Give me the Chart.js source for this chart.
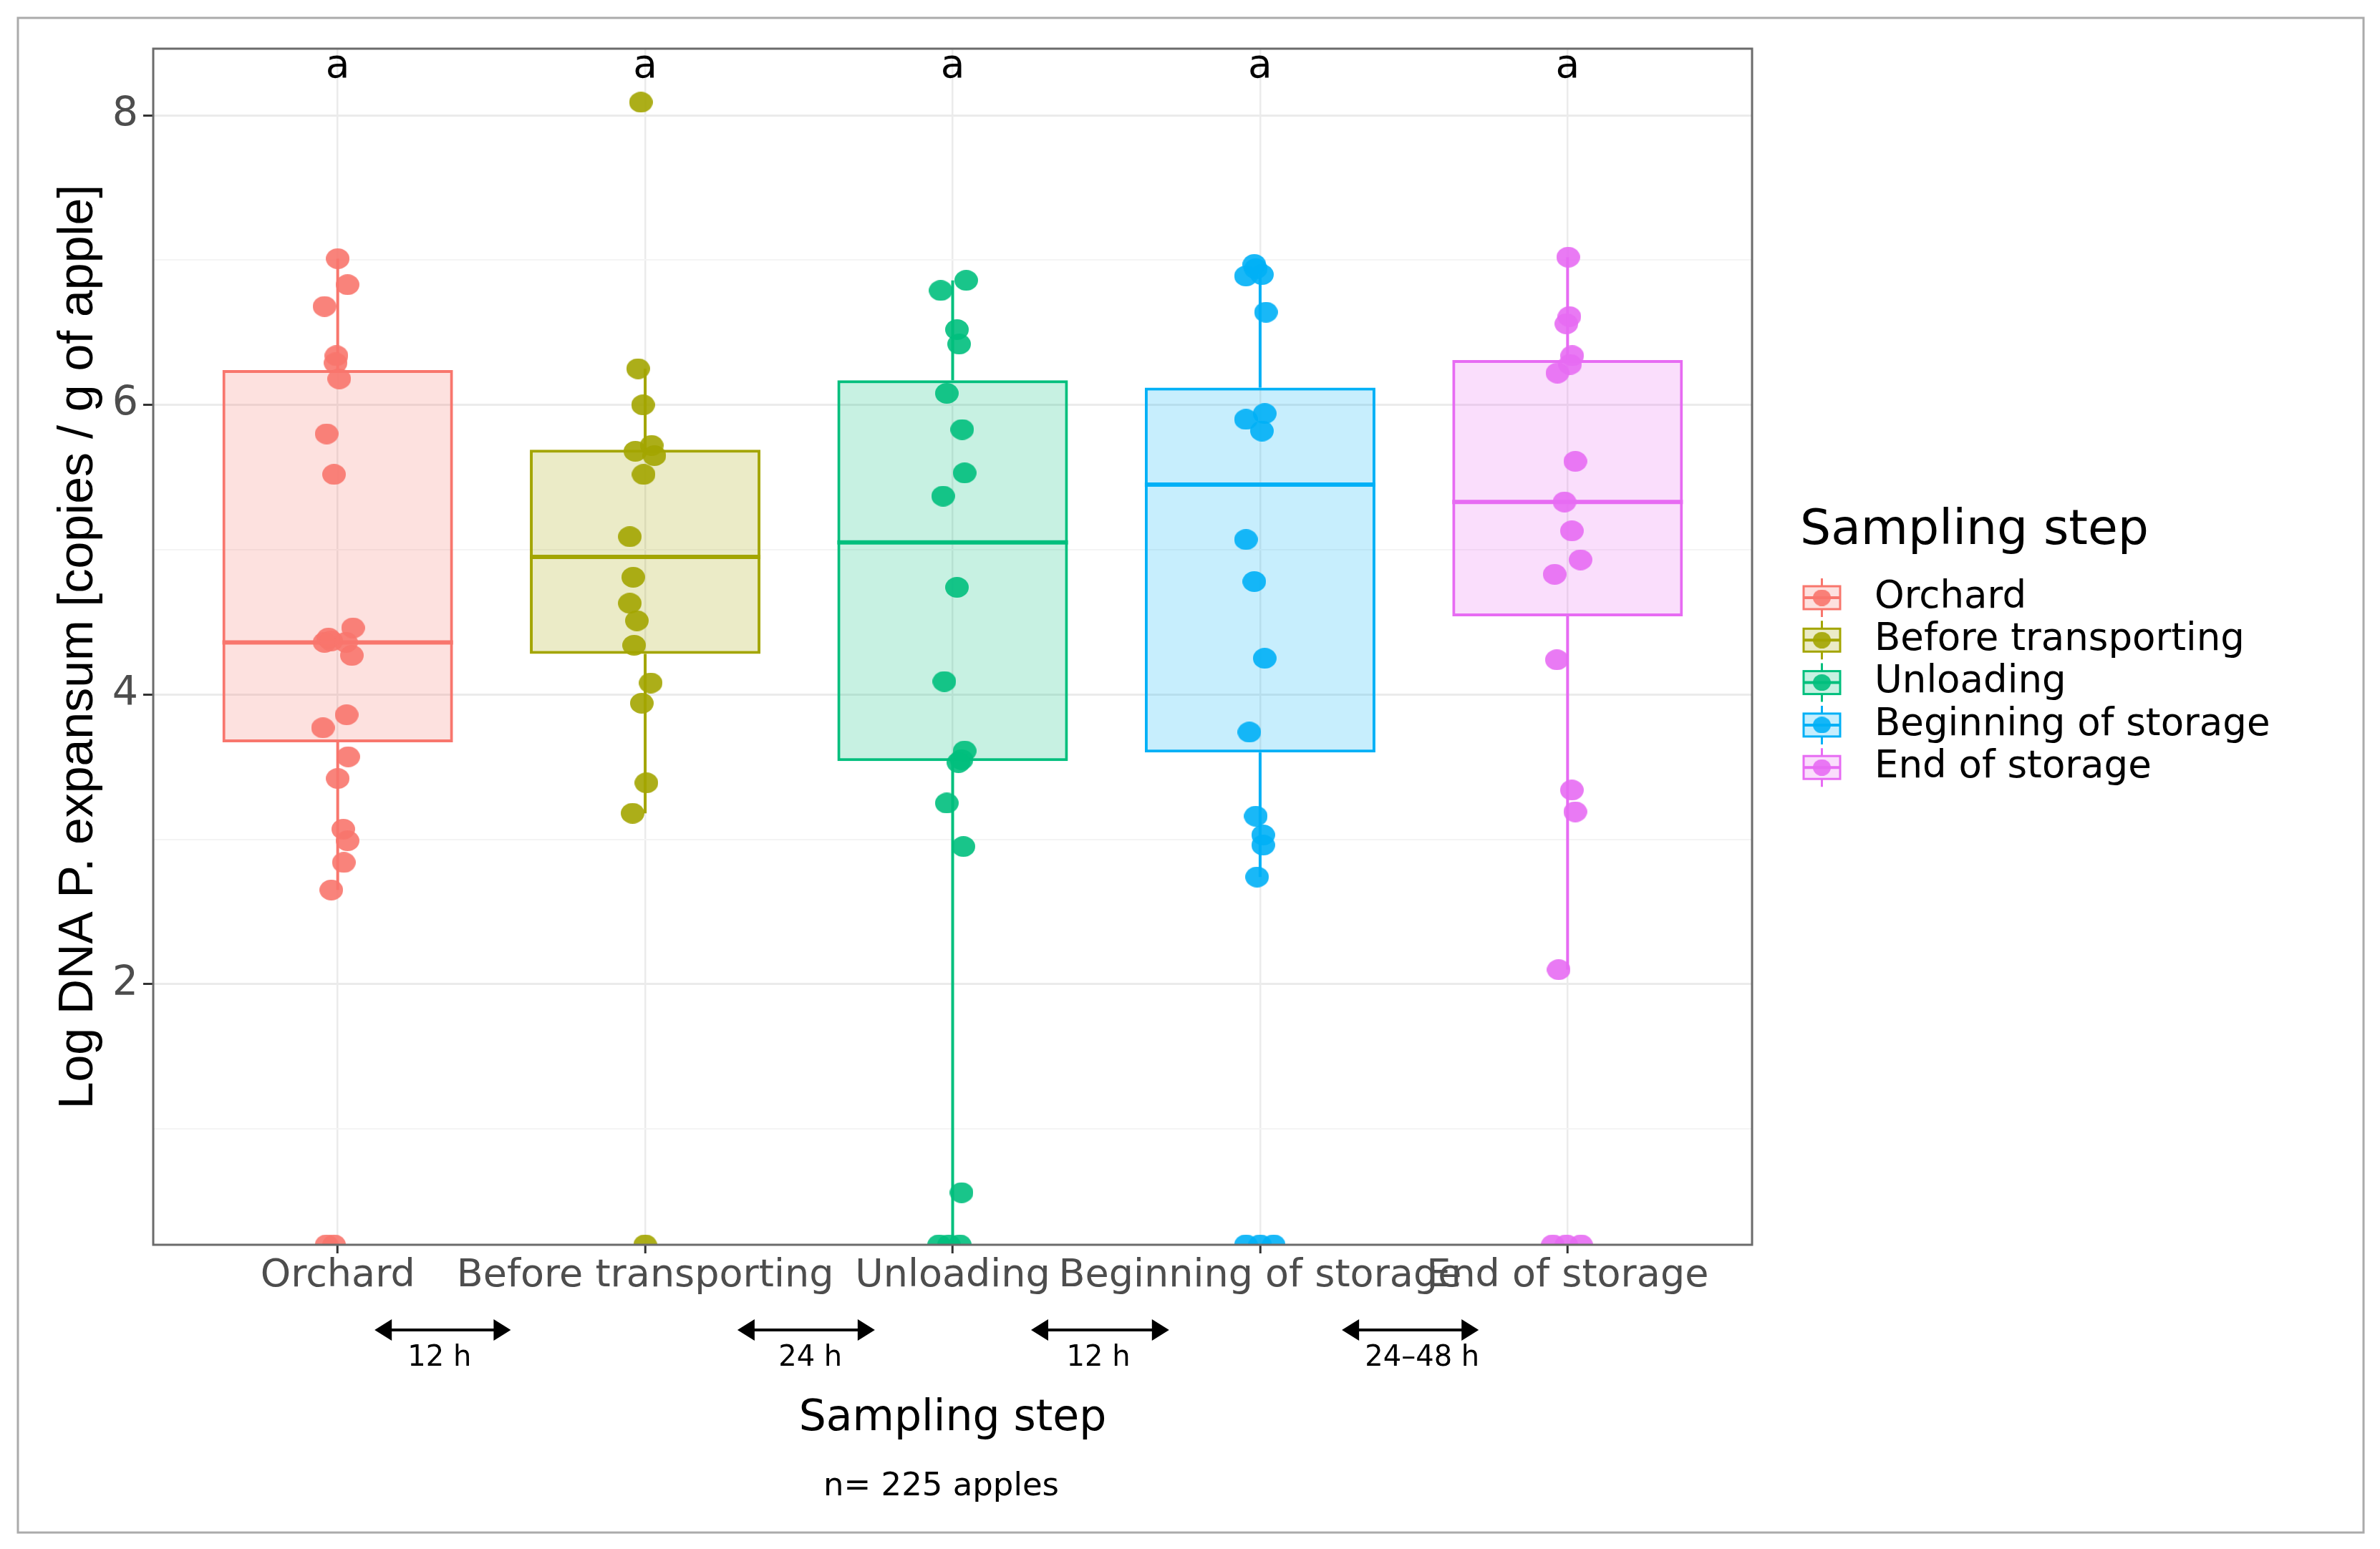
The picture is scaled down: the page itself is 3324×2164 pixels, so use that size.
<!DOCTYPE html>
<html>
<head>
<meta charset="utf-8">
<title>Log DNA P. expansum by sampling step</title>
<script src="https://cdn.jsdelivr.net/npm/chart.js@4.4.1/dist/chart.umd.min.js"></script>
<style>
  html, body { margin: 0; padding: 0; background: #ffffff; overflow: hidden; }
  #wrap { position: relative; width: 3324px; height: 2164px; }
</style>
</head>
<body>
<div id="wrap"><canvas id="chart"></canvas></div>
<script>
// categories and colours (ggplot default hue palette)
const CATEGORIES = ['Orchard', 'Before transporting', 'Unloading', 'Beginning of storage', 'End of storage'];
const COLORS = ['#F8766D', '#A3A500', '#00BF7D', '#00B0F6', '#E76BF3'];

// box statistics
const Q1 = [3.67, 4.28, 3.54, 3.60, 4.54];
const MEDIAN = [4.36, 4.95, 5.05, 5.45, 5.33];
const Q3 = [6.24, 5.69, 6.17, 6.12, 6.31];
const WHISKER_LO = [2.65, 3.18, 0.2, 2.74, 2.10];
const WHISKER_HI = [7.01, 6.25, 6.86, 6.94, 7.02];

// individual apples (value) and their horizontal jitter
const ORCHARD_VALUES = [7.01, 6.83, 6.68, 6.34, 6.29, 6.18, 5.80, 5.52, 4.46, 4.39, 4.36, 4.37, 4.36, 4.27, 3.86, 3.77, 3.57, 3.42, 3.07, 2.99, 2.84, 2.65, 0.2, 0.2];
const ORCHARD_JITTER = [0, 0.032, -0.043, -0.004, -0.007, 0.005, -0.036, -0.012, 0.05, -0.03, -0.043, -0.021, 0.027, 0.046, 0.029, -0.048, 0.034, 0, 0.018, 0.032, 0.02, -0.021, -0.036, -0.012];
const BEFORE_VALUES = [8.09, 6.25, 6.00, 5.68, 5.72, 5.65, 5.52, 5.09, 4.81, 4.63, 4.51, 4.34, 4.08, 3.94, 3.39, 3.18, 0.2];
const BEFORE_JITTER = [-0.014, -0.023, -0.007, -0.032, 0.021, 0.03, -0.005, -0.05, -0.039, -0.05, -0.027, -0.036, 0.018, -0.011, 0.004, -0.041, 0];
const UNLOADING_VALUES = [6.86, 6.79, 6.52, 6.42, 6.08, 5.83, 5.53, 5.37, 4.74, 4.09, 3.61, 3.55, 3.53, 3.25, 2.95, 0.56, 0.2, 0.2, 0.2];
const UNLOADING_JITTER = [0.044, -0.039, 0.014, 0.021, -0.019, 0.031, 0.039, -0.031, 0.014, -0.027, 0.039, 0.029, 0.019, -0.019, 0.035, 0.029, -0.044, -0.012, 0.023];
const BEGINNING_VALUES = [6.97, 6.89, 6.90, 6.94, 6.64, 5.94, 5.90, 5.82, 5.07, 4.78, 4.25, 3.74, 3.16, 3.03, 2.96, 2.74, 0.2, 0.2, 0.2];
const BEGINNING_JITTER = [-0.019, -0.046, 0.006, -0.014, 0.019, 0.015, -0.046, 0.006, -0.046, -0.019, 0.015, -0.035, -0.014, 0.01, 0.01, -0.01, -0.046, 0, 0.044];
const END_VALUES = [7.02, 6.61, 6.56, 6.34, 6.28, 6.22, 5.61, 5.33, 5.13, 4.93, 4.83, 4.24, 3.34, 3.19, 2.10, 0.2, 0.2, 0.2];
const END_JITTER = [0.002, 0.006, -0.004, 0.015, 0.008, -0.033, 0.025, -0.01, 0.014, 0.042, -0.042, -0.035, 0.014, 0.025, -0.029, -0.048, -0.004, 0.044];

const GROUP_VALUES = [ORCHARD_VALUES, BEFORE_VALUES, UNLOADING_VALUES, BEGINNING_VALUES, END_VALUES];
const GROUP_JITTER = [ORCHARD_JITTER, BEFORE_JITTER, UNLOADING_JITTER, BEGINNING_JITTER, END_JITTER];

// significance letters
const LETTERS = ['a', 'a', 'a', 'a', 'a'];
const LETTER_Y = 8.26;

// y ticks
const Y_MAJOR = [2, 4, 6, 8];
const Y_MINOR = [1, 3, 5, 7];
const Y_MIN = 0.2;
const Y_MAX = 8.46;

// time between sampling steps (in category units)
const GAP_LABELS = ['12 h', '24 h', '12 h', '24\u201348 h'];
const GAP_FROM = [0.12, 1.30, 2.255, 3.266];
const GAP_TO = [0.563, 1.747, 2.704, 3.711];
const GAP_TEXT_AT = [0.331, 1.537, 2.474, 3.527];

const BOX_WIDTH = 0.75;

Chart.defaults.font.family = '"DejaVu Sans", sans-serif';

function withAlpha(hex, a) {
  const n = parseInt(hex.slice(1), 16);
  return `rgba(${(n >> 16) & 255},${(n >> 8) & 255},${n & 255},${a})`;
}

function makeDot(color, rx, ry) {
  const c = document.createElement('canvas');
  c.width = Math.ceil(rx * 2);
  c.height = Math.ceil(ry * 2);
  const g = c.getContext('2d');
  g.fillStyle = color;
  g.beginPath();
  g.ellipse(c.width / 2, c.height / 2, rx, ry, 0, 0, Math.PI * 2);
  g.fill();
  return c;
}

const dots = COLORS.map((c) => makeDot(withAlpha(c, 0.9), 16.5, 14.5));
const legendDots = COLORS.map((c) => makeDot(withAlpha(c, 0.9), 12.5, 11.5));

const datasets = [];
datasets.push({
  type: 'bar',
  label: 'box',
  data: CATEGORIES.map((c, i) => ({ x: i, y: [Q1[i], Q3[i]] })),
  backgroundColor: COLORS.map((c) => withAlpha(c, 0.22)),
  borderColor: COLORS,
  borderWidth: 4,
  borderSkipped: false,
  categoryPercentage: 1,
  barPercentage: BOX_WIDTH,
  order: 3,
});

CATEGORIES.forEach((c, i) => {
  // whiskers
  datasets.push({
    type: 'line',
    label: c + ' whisker',
    data: [
      { x: i, y: WHISKER_LO[i] },
      { x: i, y: Q1[i] },
      { x: i, y: null },
      { x: i, y: Q3[i] },
      { x: i, y: WHISKER_HI[i] },
    ],
    borderColor: COLORS[i],
    borderWidth: 4,
    pointRadius: 0,
    spanGaps: false,
    clip: 0,
    order: 4,
  });
  // median
  datasets.push({
    type: 'line',
    label: c + ' median',
    data: [
      { x: i - BOX_WIDTH / 2, y: MEDIAN[i] },
      { x: i + BOX_WIDTH / 2, y: MEDIAN[i] },
    ],
    borderColor: COLORS[i],
    borderWidth: 6,
    pointRadius: 0,
    order: 2,
  });
  // points
  datasets.push({
    type: 'scatter',
    label: c,
    data: GROUP_VALUES[i].map((v, k) => ({ x: i + GROUP_JITTER[i][k], y: v })),
    pointStyle: dots[i],
    pointRadius: 15,
    clip: 0,
    order: 1,
  });
});

const decorations = {
  id: 'decorations',
  beforeDraw(chart) {
    const { ctx } = chart;
    ctx.save();
    ctx.strokeStyle = '#ABABAB';
    ctx.lineWidth = 3;
    ctx.strokeRect(25, 25, 3276, 2116);
    ctx.restore();
  },
  afterDraw(chart) {
    const { ctx, chartArea: a, scales: { x, y } } = chart;
    ctx.save();

    // panel border
    ctx.strokeStyle = '#6B6B6B';
    ctx.lineWidth = 3;
    ctx.strokeRect(a.left, a.top, a.right - a.left, a.bottom - a.top);

    // letters
    ctx.fillStyle = '#000';
    ctx.font = '55px "DejaVu Sans"';
    ctx.textAlign = 'center';
    ctx.textBaseline = 'alphabetic';
    LETTERS.forEach((t, i) => ctx.fillText(t, x.getPixelForValue(i), y.getPixelForValue(LETTER_Y)));

    // arrows between steps
    const ay = a.bottom + 119;
    ctx.strokeStyle = '#000';
    ctx.lineWidth = 4;
    GAP_LABELS.forEach((t, i) => {
      const x1 = x.getPixelForValue(GAP_FROM[i]);
      const x2 = x.getPixelForValue(GAP_TO[i]);
      ctx.beginPath();
      ctx.moveTo(x1 + 10, ay);
      ctx.lineTo(x2 - 10, ay);
      ctx.stroke();
      ctx.beginPath();
      ctx.moveTo(x1, ay);
      ctx.lineTo(x1 + 24, ay - 15);
      ctx.lineTo(x1 + 24, ay + 15);
      ctx.closePath();
      ctx.moveTo(x2, ay);
      ctx.lineTo(x2 - 24, ay - 15);
      ctx.lineTo(x2 - 24, ay + 15);
      ctx.closePath();
      ctx.fill();
      ctx.font = '40px "DejaVu Sans"';
      ctx.textBaseline = 'middle';
      ctx.fillText(t, x.getPixelForValue(GAP_TEXT_AT[i]), a.bottom + 159);
    });

    // sample size note
    ctx.font = '45px "DejaVu Sans"';
    ctx.textAlign = 'center';
    ctx.textBaseline = 'middle';
    ctx.fillText('n= 225 apples', (a.left + a.right) / 2 - 16, a.bottom + 338);

    // legend
    const cy = (a.top + a.bottom) / 2;
    ctx.textAlign = 'left';
    ctx.font = '68px "DejaVu Sans"';
    ctx.fillText('Sampling step', a.right + 67, cy - 161);
    const kx = a.right + 97.5;
    CATEGORIES.forEach((c, i) => {
      const ky = cy - 68.5 + i * 59.3;
      ctx.fillStyle = withAlpha(COLORS[i], 0.22);
      ctx.fillRect(kx - 25.5, ky - 16, 51, 32);
      ctx.strokeStyle = COLORS[i];
      ctx.lineWidth = 3;
      ctx.strokeRect(kx - 25.5, ky - 16, 51, 32);
      ctx.beginPath();
      ctx.moveTo(kx, ky - 27);
      ctx.lineTo(kx, ky - 16);
      ctx.moveTo(kx, ky + 16);
      ctx.lineTo(kx, ky + 27);
      ctx.stroke();
      ctx.lineWidth = 4;
      ctx.beginPath();
      ctx.moveTo(kx - 25.5, ky);
      ctx.lineTo(kx + 25.5, ky);
      ctx.stroke();
      const d = legendDots[i];
      ctx.drawImage(d, kx - d.width / 2, ky - d.height / 2);
      ctx.fillStyle = '#000';
      ctx.font = '53px "DejaVu Sans"';
      ctx.fillText(c, a.right + 171, ky);
    });

    ctx.restore();
  },
};

new Chart(document.getElementById('chart'), {
  type: 'scatter',
  data: { datasets: datasets },
  plugins: [decorations],
  options: {
    responsive: true,
    maintainAspectRatio: false,
    animation: false,
    events: [],
    layout: { padding: { left: 0, top: 68, right: 877, bottom: 0 } },
    plugins: {
      legend: { display: false },
      tooltip: { enabled: false },
    },
    scales: {
      x: {
        type: 'linear',
        min: -0.6,
        max: CATEGORIES.length - 0.4,
        offset: false,
        afterBuildTicks: (s) => { s.ticks = CATEGORIES.map((c, i) => ({ value: i })); },
        afterFit: (s) => { s.height = 425; },
        ticks: {
          callback: (v) => CATEGORIES[v],
          autoSkip: false,
          maxRotation: 0,
          minRotation: 0,
          padding: 0,
          color: '#4D4D4D',
          font: { size: 54 },
        },
        grid: {
          offset: false,
          color: '#EBEBEB',
          lineWidth: 2.5,
          tickColor: '#333333',
          tickWidth: 3,
          tickLength: 12,
        },
        border: { display: false },
        title: {
          display: true,
          text: 'Sampling step',
          color: '#000',
          font: { size: 60 },
          padding: { top: 0, bottom: 146 },
        },
      },
      y: {
        type: 'linear',
        min: Y_MIN,
        max: Y_MAX,
        afterBuildTicks: (s) => {
          s.ticks = Y_MAJOR.concat(Y_MINOR).sort((p, q) => p - q).map((v) => ({ value: v }));
        },
        afterFit: (s) => { s.width = 214; },
        ticks: {
          callback: (v) => (Y_MAJOR.includes(v) ? String(v) : ''),
          padding: 7,
          color: '#4D4D4D',
          font: { size: 57 },
        },
        grid: {
          color: (c) => (Y_MAJOR.includes(c.tick.value) ? '#EBEBEB' : '#F4F4F4'),
          lineWidth: (c) => (Y_MAJOR.includes(c.tick.value) ? 3 : 2),
          tickColor: (c) => (Y_MAJOR.includes(c.tick.value) ? '#333333' : 'rgba(0,0,0,0)'),
          tickWidth: 3,
          tickLength: 14,
        },
        border: { display: false },
        title: {
          display: true,
          text: 'Log DNA P. expansum [copies / g of apple]',
          color: '#000',
          font: { size: 68, family: '"Liberation Sans", Arial, sans-serif' },
          padding: { top: 69, bottom: 0 },
        },
      },
    },
  },
});
</script>
</body>
</html>
